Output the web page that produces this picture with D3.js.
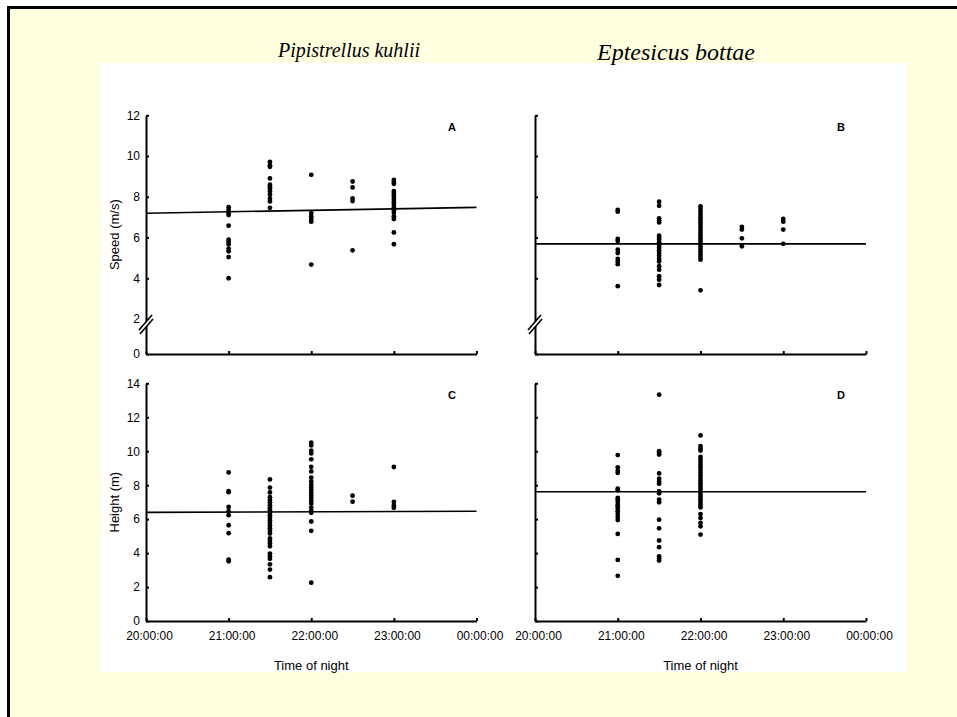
<!doctype html>
<html lang="en">
<head>
<meta charset="utf-8" />
<title>Flight speed and height by time of night</title>
<style>
  body { margin: 0; background: #fff; }
  svg { display: block; }
  .tick text { font: 12px "Liberation Sans", Arial, sans-serif; fill: #000; }
  .axis-title { font: 13px "Liberation Sans", Arial, sans-serif; fill: #000; }
  .species { font-family: "Liberation Serif", "Times New Roman", serif; font-style: italic; fill: #000; }
  .letter { font: bold 11px "Liberation Sans", Arial, sans-serif; fill: #000; }
</style>
</head>
<body>
<svg id="chart" width="957" height="717"></svg>
<script src="https://cdn.jsdelivr.net/npm/d3@7"></script>
<script>
// sampling times (hours after midnight of the evening) and tick labels
var times = [21, 21.5, 22, 22.5, 23];
var hourTicks = [20, 21, 22, 23, 24];
var timeLabels = ["20:00:00", "21:00:00", "22:00:00", "23:00:00", "00:00:00"];
var speedTicks = [0, 2, 4, 6, 8, 10, 12];
var heightTicks = [0, 2, 4, 6, 8, 10, 12, 14];

// A - Pipistrellus kuhlii, speed (m/s), one list per time
var kuhliiSpeed = [
  [7.49, 7.36, 7.20, 7.10, 6.58, 5.89, 5.78, 5.67, 5.45, 5.32, 5.04, 4.00],
  [9.71, 9.55, 9.47, 8.90, 8.59, 8.50, 8.42, 8.26, 8.11, 7.92, 7.77, 7.46],
  [9.08, 7.20, 7.04, 6.91, 6.78, 4.67],
  [8.75, 8.46, 7.92, 7.79, 5.37],
  [8.83, 8.74, 8.64, 8.28, 8.18, 8.09, 7.99, 7.86, 7.73, 7.60, 7.47, 7.33, 7.21, 7.04, 6.91, 6.25, 5.67]
];
var kuhliiSpeedFit = [7.19, 7.48];

// B - Eptesicus bottae, speed (m/s)
var bottaeSpeed = [
  [7.36, 7.27, 5.93, 5.83, 5.40, 5.24, 4.95, 4.82, 4.69, 3.61],
  [7.76, 7.56, 6.94, 6.84, 6.74, 6.09, 5.99, 5.89, 5.76, 5.63, 5.50, 5.37, 5.24, 5.11, 4.95, 4.82, 4.59, 4.42, 4.10, 3.93, 3.67],
  [7.53, 7.40, 7.27, 7.13, 7.00, 6.87, 6.74, 6.61, 6.48, 6.35, 6.22, 6.09, 5.96, 5.83, 5.70, 5.57, 5.44, 5.31, 5.18, 5.04, 4.91, 3.41],
  [6.52, 6.39, 5.96, 5.57],
  [6.91, 6.78, 6.39, 5.69]
];
var bottaeSpeedFit = [5.69, 5.69];

// C - Pipistrellus kuhlii, height (m)
var kuhliiHeight = [
  [8.75, 7.65, 7.59, 6.72, 6.47, 6.23, 5.64, 5.17, 3.62, 3.52],
  [8.34, 7.86, 7.57, 7.29, 7.12, 7.00, 6.82, 6.67, 6.53, 6.39, 6.23, 6.08, 5.94, 5.78, 5.62, 5.47, 5.31, 5.15, 4.86, 4.72, 4.56, 4.40, 3.97, 3.81, 3.66, 3.34, 3.03, 2.58],
  [10.50, 10.34, 10.03, 9.87, 9.52, 9.08, 8.81, 8.45, 8.22, 8.02, 7.86, 7.71, 7.55, 7.39, 7.24, 7.08, 6.92, 6.68, 6.49, 6.37, 5.86, 5.31, 2.26],
  [7.38, 7.03],
  [9.07, 7.01, 6.81, 6.67]
];
var kuhliiHeightFit = [6.40, 6.46];

// D - Eptesicus bottae, height (m)
var bottaeHeight = [
  [9.77, 9.05, 8.85, 8.73, 7.79, 7.70, 7.25, 7.15, 7.01, 6.85, 6.76, 6.62, 6.46, 6.30, 6.13, 5.95, 5.13, 3.60, 2.66],
  [13.33, 10.00, 9.90, 9.80, 8.69, 8.38, 8.22, 8.09, 7.64, 7.52, 7.15, 6.99, 5.97, 5.46, 4.74, 4.35, 3.80, 3.68, 3.56],
  [10.93, 10.30, 10.18, 10.04, 9.67, 9.52, 9.36, 9.20, 9.05, 8.89, 8.73, 8.58, 8.42, 8.26, 8.11, 7.95, 7.79, 7.64, 7.48, 7.32, 7.17, 7.01, 6.85, 6.70, 6.30, 6.07, 5.78, 5.58, 5.09],
  [],
  []
];
var bottaeHeightFit = [7.61, 7.61];

var svg = d3.select("#chart");

// page background and frame
svg.append("rect").attr("x", 8.5).attr("y", 7.5).attr("width", 1000).attr("height", 1000)
  .style("fill", "#ffffe0").style("stroke", "#000").style("stroke-width", 3);
svg.append("rect").attr("x", 101).attr("y", 63).attr("width", 806).attr("height", 609)
  .style("fill", "#fff");

svg.append("text").attr("class", "species").attr("x", 349).attr("y", 57)
  .attr("text-anchor", "middle").style("font-size", "20px").text("Pipistrellus kuhlii");
svg.append("text").attr("class", "species").attr("x", 676).attr("y", 60)
  .attr("text-anchor", "middle").style("font-size", "24px").text("Eptesicus bottae");

var panels = [
  { letter: "A", values: kuhliiSpeed, fit: kuhliiSpeedFit, left: 146, right: 476.5,
    yDomain: [0, 2, 12], yRange: [354, 319, 115.3], yTicks: speedTicks,
    yLabel: "Speed (m/s)", showY: true, showX: false, broken: true },
  { letter: "B", values: bottaeSpeed, fit: bottaeSpeedFit, left: 535, right: 866,
    yDomain: [0, 2, 12], yRange: [354, 319, 115.3], yTicks: speedTicks,
    yLabel: null, showY: false, showX: false, broken: true },
  { letter: "C", values: kuhliiHeight, fit: kuhliiHeightFit, left: 146, right: 476.5,
    yDomain: [0, 14], yRange: [621, 383.3], yTicks: heightTicks,
    yLabel: "Height (m)", showY: true, showX: true, broken: false },
  { letter: "D", values: bottaeHeight, fit: bottaeHeightFit, left: 535, right: 866,
    yDomain: [0, 14], yRange: [621, 383.3], yTicks: heightTicks,
    yLabel: null, showY: false, showX: true, broken: false }
];

panels.forEach(function (p) {
  var x = d3.scaleLinear().domain([20, 24]).range([p.left, p.right]);
  var y = d3.scaleLinear().domain(p.yDomain).range(p.yRange);
  var g = svg.append("g");
  var bottom = y(0);

  var ya = d3.axisLeft(y).tickValues(p.yTicks).tickSize(-3).tickSizeOuter(0).tickPadding(6)
    .tickFormat(function (d) { return p.showY ? d : ""; });
  var yg = g.append("g").attr("transform", "translate(" + p.left + ",0)").call(ya);

  var xa = d3.axisBottom(x).tickValues(hourTicks).tickSize(-3).tickSizeOuter(0).tickPadding(10)
    .tickFormat(function (d, i) { return p.showX ? timeLabels[i] : ""; });
  var xg = g.append("g").attr("transform", "translate(0," + bottom + ")").call(xa);
  xg.selectAll(".tick text").attr("dx", 3);

  [yg, xg].forEach(function (a) {
    a.select(".domain").style("stroke", "#000").style("stroke-width", 2);
    a.selectAll(".tick line").style("stroke", "#000").style("stroke-width", 2);
  });

  // axis break between 0 and 2
  if (p.broken) {
    var cy = y(2) + 5, L = p.left;
    g.append("polygon")
      .attr("points", [[L - 7, cy + 6], [L + 6, cy - 9], [L + 7, cy - 5], [L - 6, cy + 10]].join(" "))
      .style("fill", "#fff");
    g.append("line").attr("x1", L - 7).attr("y1", cy + 6).attr("x2", L + 6).attr("y2", cy - 9)
      .style("stroke", "#000").style("stroke-width", 1.6);
    g.append("line").attr("x1", L - 6).attr("y1", cy + 10).attr("x2", L + 7).attr("y2", cy - 5)
      .style("stroke", "#000").style("stroke-width", 1.6);
  }

  // regression line
  g.append("line")
    .attr("x1", x(20)).attr("y1", y(p.fit[0]))
    .attr("x2", x(24)).attr("y2", y(p.fit[1]))
    .style("stroke", "#000").style("stroke-width", 1.6);

  // points
  var pts = [];
  p.values.forEach(function (list, i) {
    list.forEach(function (v) { pts.push({ t: times[i], v: v }); });
  });
  g.selectAll("circle.pt").data(pts).enter().append("circle")
    .attr("class", "pt")
    .attr("cx", function (d) { return x(d.t); })
    .attr("cy", function (d) { return y(d.v); })
    .attr("r", 2.4)
    .style("fill", "#000");

  g.append("text").attr("class", "letter")
    .attr("x", p.left + 306).attr("y", p.yRange[p.yRange.length - 1] + 16)
    .attr("text-anchor", "middle").text(p.letter);

  if (p.yLabel) {
    var mid = (y.range()[0] + y.range()[y.range().length - 1]) / 2;
    g.append("text").attr("class", "axis-title")
      .attr("transform", "translate(" + (p.left - 27) + "," + mid + ") rotate(-90)")
      .attr("text-anchor", "middle").text(p.yLabel);
  }
  if (p.showX) {
    g.append("text").attr("class", "axis-title")
      .attr("x", (p.left + p.right) / 2).attr("y", 670)
      .attr("text-anchor", "middle").text("Time of night");
  }
});
</script>
</body>
</html>
